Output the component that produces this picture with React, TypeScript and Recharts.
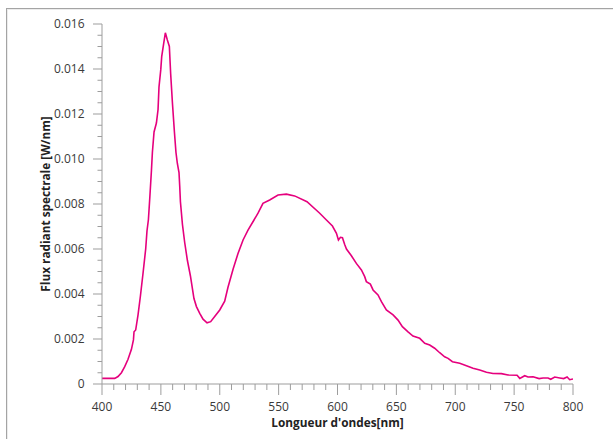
import React from 'react';
import { LineChart, Line, XAxis, YAxis, Label } from 'recharts';

const wavelengths = [
  400, 405, 410.8, 413.6, 416.5, 419.3, 422.1, 425, 426.7, 427.2, 428.6, 430.6, 432.6, 434.8,
  437.1, 438.2, 439.4, 440.5, 442, 442.8, 444.2, 446.2, 447.6, 448.4, 449.9, 450.7, 452.4,
  453.8, 455.5, 457.2, 458.3, 459.8, 461.5, 462.8, 464, 465.4, 466, 466.6, 468.3, 470.2,
  472.5, 475.1, 478.1, 480.2, 483, 485.8, 489.2, 492.3, 495.7, 500, 504.2, 507, 511.3,
  515.5, 519.8, 524, 528.2, 532.5, 536.7, 542.4, 549.5, 556.6, 563.6, 574.1, 584.9, 590.6,
  595.7, 599.1, 600.8, 602.5, 604.2, 606.1, 607.6, 611.8, 616, 620.3, 623.1, 624.5, 627.9,
  630.2, 634.4, 637.3, 641.5, 647.2, 651.4, 655.1, 659.9, 664.1, 669.8, 674.1, 678.3, 682.5,
  686.8, 691, 693.9, 697.6, 703.8, 709.5, 715.1, 720.8, 726.5, 732.1, 739.2, 744.8, 752.5,
  754.8, 759, 761.8, 766.1, 771.2, 774.6, 778.8, 781.1, 784.5, 788.8, 792.1, 795, 797.2, 800,
];

const flux = [
  0.00025, 0.00025, 0.00025, 0.00033, 0.0005, 0.00077, 0.0011, 0.00154, 0.00196, 0.00232, 0.0024,
  0.00307, 0.0039, 0.0049, 0.006, 0.0068, 0.0073, 0.0082, 0.0095, 0.0103, 0.0112, 0.0116, 0.0122,
  0.0132, 0.01396, 0.01455, 0.01514, 0.01561, 0.01529, 0.015, 0.0138, 0.0125, 0.0112, 0.0103,
  0.0098, 0.0094, 0.0088, 0.0081, 0.0071, 0.0063, 0.0055, 0.0048, 0.0038, 0.00344, 0.00314,
  0.00288, 0.00272, 0.00277, 0.003, 0.00329, 0.00368, 0.0043, 0.0051, 0.0058, 0.0064, 0.00684,
  0.00721, 0.00759, 0.00803, 0.00818, 0.0084, 0.00844, 0.00836, 0.0081, 0.00759, 0.00729,
  0.00702, 0.0067, 0.0064, 0.00652, 0.0065, 0.0062, 0.006, 0.0057, 0.00536, 0.00507, 0.00477,
  0.00455, 0.00444, 0.00418, 0.00396, 0.00366, 0.00329, 0.00307, 0.00284, 0.00255, 0.00232,
  0.00213, 0.00203, 0.00181, 0.00173, 0.00159, 0.00139, 0.00121, 0.00114, 0.00099, 0.00092,
  0.00081, 0.0007, 0.00062, 0.00052, 0.00047, 0.00046, 0.0004, 0.00039, 0.00025, 0.00037,
  0.00031, 0.00032, 0.00024, 0.00027, 0.00027, 0.00021, 0.00031, 0.00027, 0.00024, 0.00031,
  0.00019, 0.00022,
];

const xTicks = Array.from({ length: 41 }, (_, i) => 400 + i * 10);
const yTicks = Array.from({ length: 33 }, (_, i) => i * 0.0005);

const data = wavelengths.map((wl, i) => ({ wl, flux: flux[i] }));

const AXIS = '#9d9d9d';
const TEXT = '#3a3a3a';
const FONT = '"Open Sans", sans-serif';

const XTick = (props: any) => {
  const { x, y, payload } = props;
  const v = Math.round(payload.value);
  const major = v % 50 === 0;
  return (
    <g>
      <line x1={x} x2={x} y1={y} y2={y + (major ? 11 : 6)} stroke={AXIS} strokeWidth={1} />
      {major && (
        <text x={x} y={y + 26.5} textAnchor="middle" fontSize={12} fill={TEXT} fontFamily={FONT}>
          {v}
        </text>
      )}
    </g>
  );
};

const YTick = (props: any) => {
  const { x, y, payload } = props;
  const idx = Math.round(payload.value / 0.0005);
  const major = idx % 4 === 0;
  const label = idx === 0 ? '0' : payload.value.toFixed(3);
  return (
    <g>
      <line x1={x - (major ? 9 : 4.5)} x2={x} y1={y} y2={y} stroke={AXIS} strokeWidth={1} />
      {major && (
        <text x={x - 17.5} y={y + 4.3} textAnchor="end" fontSize={12} fill={TEXT} fontFamily={FONT}>
          {label}
        </text>
      )}
    </g>
  );
};

export default function App() {
  return (
    <div
      style={{
        position: 'absolute',
        left: 0,
        top: 0,
        width: 613,
        height: 439,
        overflow: 'hidden',
        background: '#fff',
      }}
    >
      <div
        style={{
          position: 'absolute',
          left: 6,
          top: 8,
          width: 700,
          height: 600,
          borderLeft: '1px solid #a4a4a4',
          borderTop: '1px solid #a4a4a4',
          boxShadow: 'inset 1px 1px 0 #ececec',
        }}
      />
      <div style={{ position: 'absolute', left: 0, top: 0 }}>
        <LineChart
          width={613}
          height={439}
          data={data}
          margin={{ top: 24, right: 40, left: 0, bottom: 0 }}
        >
          <XAxis
            dataKey="wl"
            type="number"
            domain={[400, 800]}
            ticks={xTicks}
            interval={0}
            tickSize={0}
            tickMargin={0}
            tick={<XTick />}
            height={55}
            stroke={AXIS}
            allowDataOverflow
          >
            <Label
              value="Longueur d'ondes[nm]"
              position="insideBottom"
              offset={12}
              style={{ fontFamily: FONT, fontWeight: 700, fontSize: 11.8, fill: '#222' }}
            />
          </XAxis>
          <YAxis
            type="number"
            domain={[0, 0.016]}
            ticks={yTicks}
            interval={0}
            tickSize={0}
            tickMargin={0}
            tick={<YTick />}
            width={102}
            stroke={AXIS}
            allowDataOverflow
          >
            <Label
              value="Flux radiant spectrale [W/nm]"
              position="insideLeft"
              angle={-90}
              offset={46}
              style={{ textAnchor: 'middle', fontFamily: FONT, fontWeight: 700, fontSize: 11.8, fill: '#222' }}
            />
          </YAxis>
          <Line
            type="linear"
            dataKey="flux"
            stroke="#e5007d"
            strokeWidth={1.6}
            dot={false}
            isAnimationActive={false}
          />
        </LineChart>
      </div>
    </div>
  );
}
